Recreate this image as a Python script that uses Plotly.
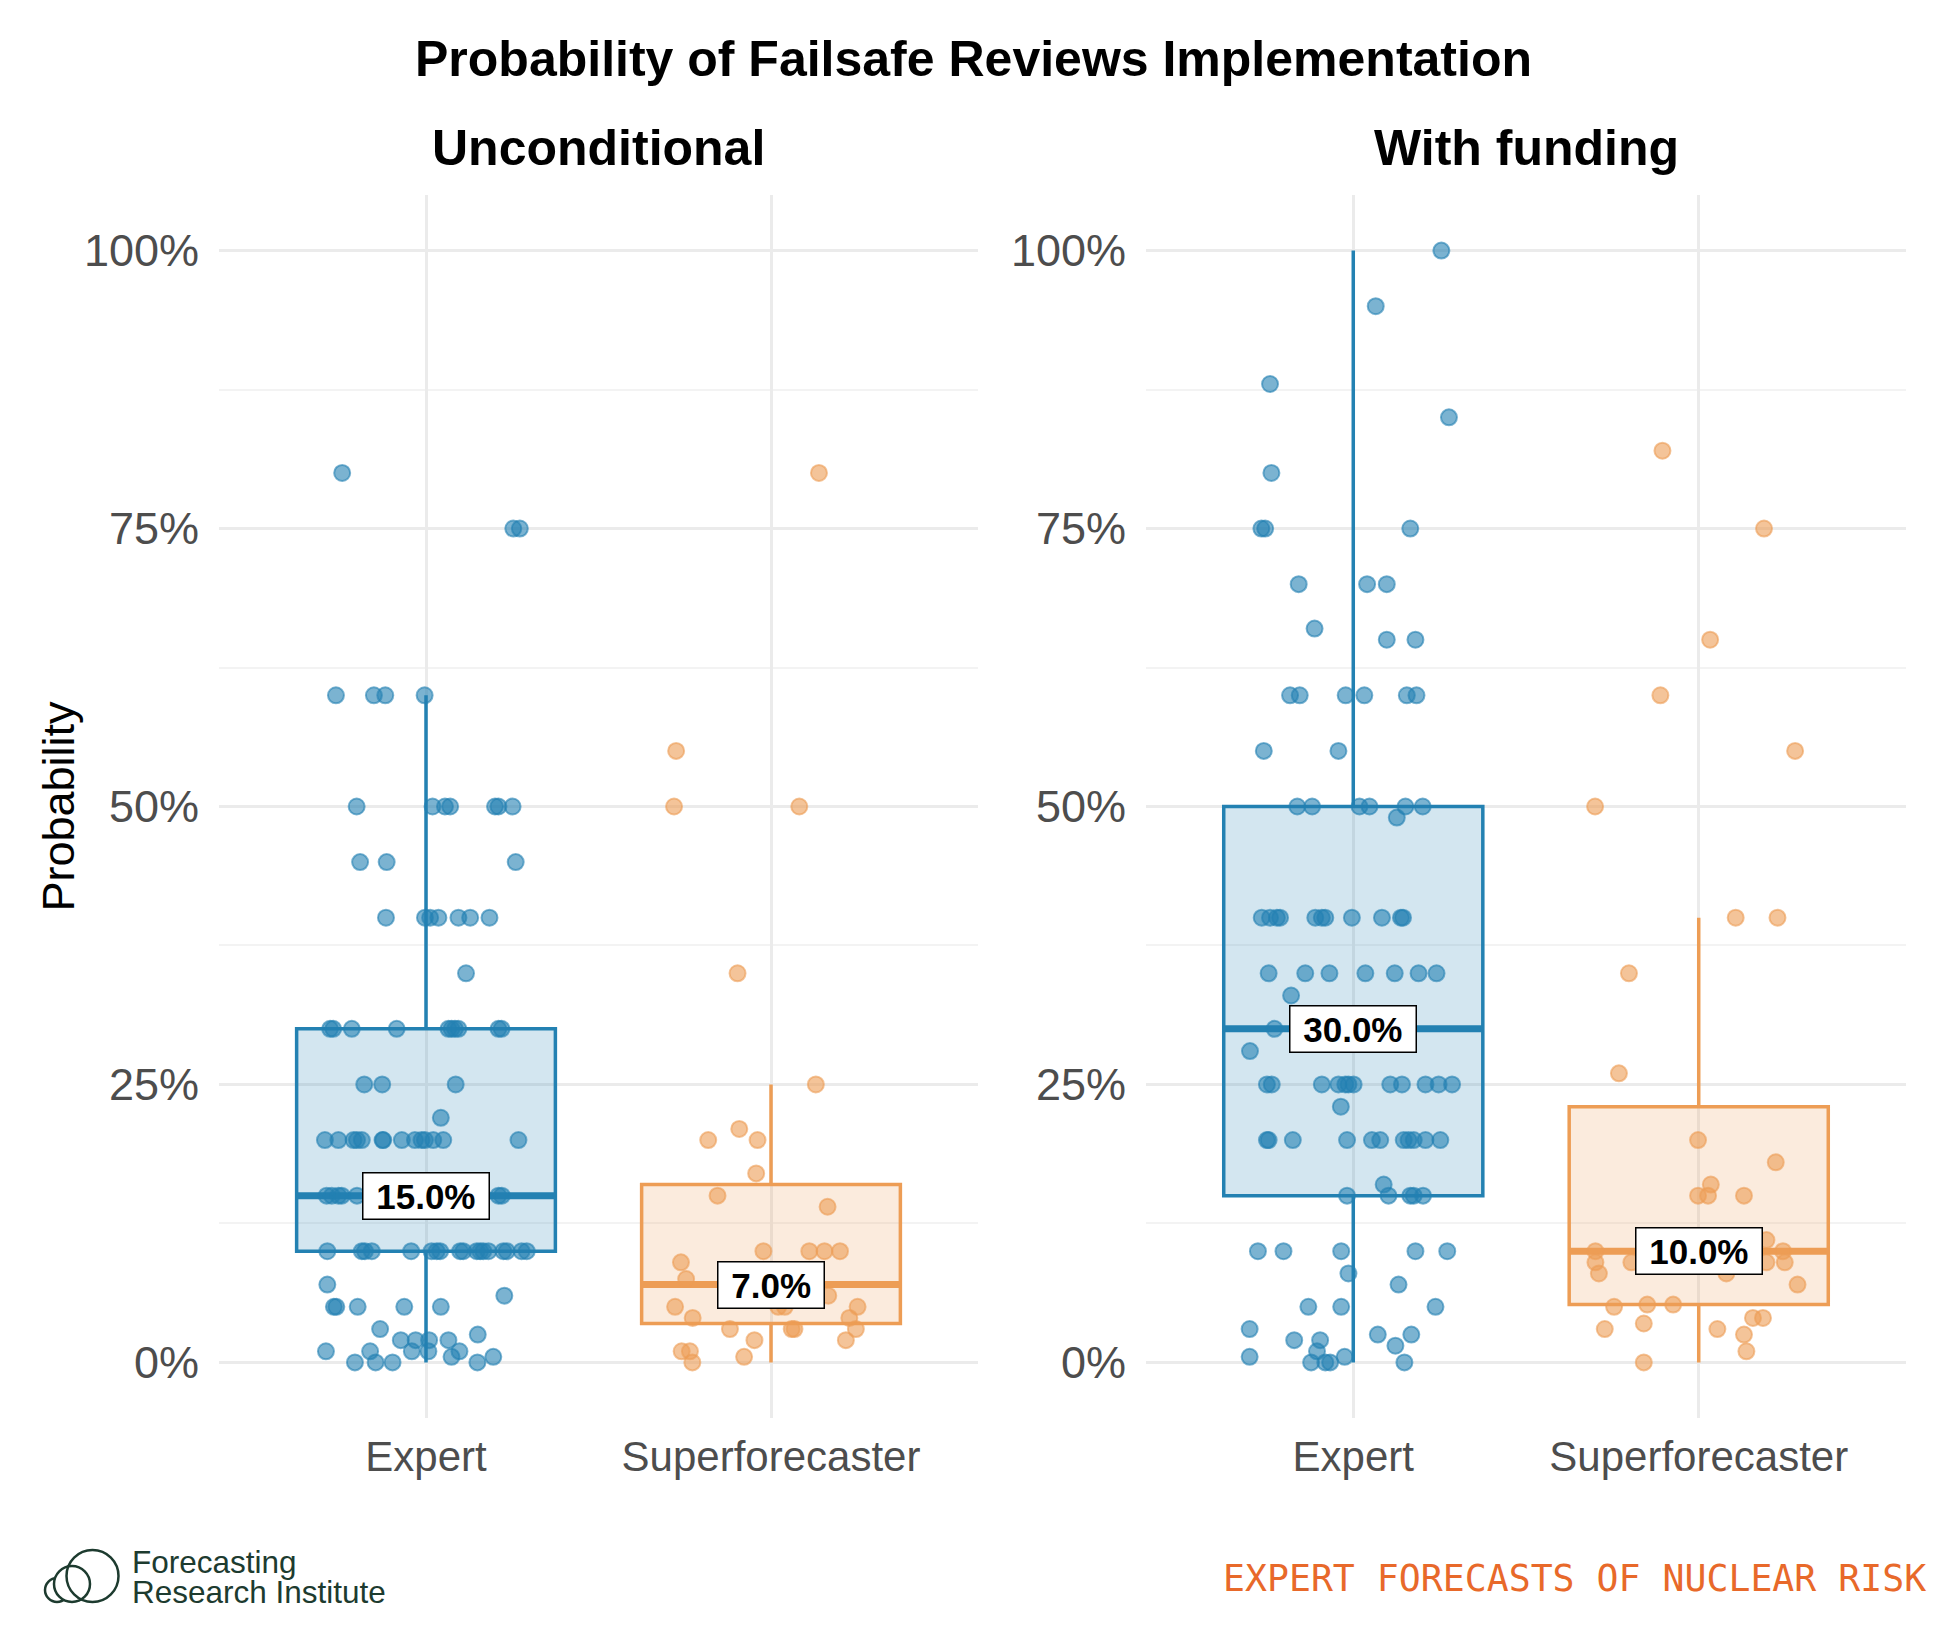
import numpy as np
import plotly.graph_objects as go

# ---------------- data (values in %, jitter offsets in category units) ----------------
categories = ["Expert", "Superforecaster"]
panel_titles = ["Unconditional", "With funding"]

unc_expert_vals = [
    80,
    75, 75,
    60, 60, 60, 60,
    50, 50, 50, 50, 50, 50, 50,
    45, 45, 45,
    40, 40, 40, 40, 40, 40, 40,
    35,
    30, 30, 30, 30, 30, 30, 30, 30, 30, 30,
    25, 25, 25,
    22,
    20, 20, 20, 20, 20, 20, 20, 20, 20, 20, 20, 20, 20, 20,
    15, 15, 15, 15, 15, 15, 15, 15, 15, 15, 15, 15, 15,
    10, 10, 10, 10, 10, 10, 10, 10, 10, 10, 10, 10, 10, 10, 10, 10, 10, 10,
    7, 6,
    5, 5, 5, 5, 5,
    3, 2.5,
    2, 2, 2, 2,
    1, 1, 1, 1, 1,
    0.5, 0.5,
    0, 0, 0, 0,
]
unc_expert_jit = [
    -0.243,
    0.253, 0.272,
    -0.261, -0.151, -0.118, -0.004,
    -0.201, 0.019, 0.055, 0.070, 0.200, 0.210, 0.251,
    -0.191, -0.114, 0.260,
    -0.116, -0.003, 0.012, 0.036, 0.094, 0.128, 0.184,
    0.116,
    -0.278, -0.269, -0.215, -0.085, 0.065, 0.074, 0.084, 0.094, 0.210, 0.219,
    -0.179, -0.127, 0.086,
    0.043,
    -0.293, -0.254, -0.210, -0.200, -0.186, -0.126, -0.124, -0.070, -0.032, -0.013, -0.003, 0.021, 0.050, 0.268,
    -0.288, -0.273, -0.254, -0.244, -0.200, -0.150, -0.100, -0.050, 0.000, 0.060, 0.120, 0.210, 0.220,
    -0.286, -0.186, -0.177, -0.157, -0.043, 0.016, 0.031, 0.041, 0.099, 0.108, 0.147, 0.157, 0.166, 0.181, 0.224, 0.234, 0.277, 0.292,
    -0.286, 0.227,
    -0.267, -0.260, -0.198, -0.063, 0.043,
    -0.133, 0.150,
    -0.073, -0.030, 0.009, 0.065,
    -0.290, -0.162, -0.041, 0.007, 0.097,
    0.195, 0.074,
    -0.206, -0.146, -0.097, 0.149,
]

unc_super_vals = [80, 55, 50, 50, 35, 25, 21, 20, 20, 17, 15, 14, 10, 10, 10, 10, 9, 7.5,
                  7, 7, 7, 7, 6, 5, 5, 5, 5, 4, 4, 3, 3, 3, 3, 2, 2, 1, 1, 0.5, 0]
unc_super_jit = [0.139, -0.275, -0.281, 0.082, -0.097, 0.130, -0.092, -0.182, -0.039, -0.043,
                 -0.155, 0.164, -0.022, 0.111, 0.155, 0.200, -0.261, -0.246, -0.120, -0.020,
                 0.060, 0.130, 0.166, -0.278, 0.021, 0.040, 0.251, -0.227, 0.227, 0.246,
                 -0.119, 0.060, 0.068, 0.217, -0.048, -0.259, -0.235, -0.078, -0.228]

fund_expert_vals = [
    100, 95, 88, 85, 80, 75, 75, 75, 70, 70, 70, 66, 65, 65,
    60, 60, 60, 60, 60, 60,
    55, 55,
    50, 50, 50, 50, 50, 50,
    49,
    40, 40, 40, 40, 40, 40, 40, 40, 40, 40, 40,
    35, 35, 35, 35, 35, 35, 35,
    33,
    30, 30, 30, 30, 30, 30, 30,
    28,
    25, 25, 25, 25, 25, 25, 25, 25, 25, 25, 25, 25,
    23,
    20, 20, 20, 20, 20, 20, 20, 20, 20, 20, 20,
    16,
    15, 15, 15, 15, 15,
    10, 10, 10, 10, 10,
    8, 7,
    5, 5, 5,
    3,
    2.5, 2.5,
    2, 2,
    1.5, 1,
    0.5, 0.5,
    0, 0, 0, 0,
]
fund_expert_jit = [
    0.255, 0.065, -0.241, 0.277, -0.237, -0.266, -0.255, 0.165, -0.158, 0.040, 0.097, -0.112, 0.097, 0.180,
    -0.183, -0.155, -0.022, 0.032, 0.155, 0.183,
    -0.259, -0.043,
    -0.162, -0.119, 0.018, 0.047, 0.151, 0.201,
    0.126,
    -0.265, -0.241, -0.221, -0.212, -0.110, -0.091, -0.081, -0.004, 0.083, 0.138, 0.144,
    -0.245, -0.139, -0.069, 0.035, 0.120, 0.189, 0.241,
    -0.180,
    -0.228, -0.150, -0.080, -0.020, 0.050, 0.100, 0.160,
    -0.299,
    -0.250, -0.236, -0.091, -0.043, -0.023, -0.014, 0.001, 0.107, 0.141, 0.209, 0.247, 0.286,
    -0.036,
    -0.250, -0.245, -0.175, -0.018, 0.054, 0.078, 0.146, 0.160, 0.175, 0.209, 0.252,
    0.088,
    -0.018, 0.102, 0.165, 0.175, 0.202,
    -0.276, -0.202, -0.035, 0.180, 0.272,
    -0.014, 0.131,
    -0.130, -0.035, 0.238,
    -0.300,
    0.071, 0.168,
    -0.171, -0.096,
    0.122, -0.105,
    -0.300, -0.025,
    -0.122, -0.081, -0.067, 0.148,
]

fund_super_vals = [82, 75, 65, 60, 55, 50, 40, 40, 35, 26, 20, 18, 16, 15, 15, 15, 11,
                   10, 10, 10, 10, 9, 9, 9, 9, 8, 8, 7, 5, 5.2, 5.2, 4, 4, 3.5, 3, 3, 2.5, 1, 0]
fund_super_jit = [-0.105, 0.189, 0.033, -0.111, 0.279, -0.300, 0.107, 0.228, -0.202, -0.231,
                  -0.002, 0.223, 0.035, -0.002, 0.027, 0.131, 0.196, -0.299, -0.050, 0.100,
                  0.244, -0.299, -0.195, 0.196, 0.249, -0.289, 0.080, 0.286, -0.245, -0.149,
                  -0.074, 0.157, 0.186, -0.159, -0.272, 0.054, 0.131, 0.138, -0.159]

y_tick_vals = [0, 25, 50, 75, 100]
y_tick_text = ["0%", "25%", "50%", "75%", "100%"]

# ---------------- styling ----------------
W, H = 1947, 1639
COLORS = {"Expert": (35, 129, 178), "Superforecaster": (237, 157, 85)}
FONT = "Liberation Sans, Arial, Helvetica, sans-serif"


def rgba(c, a):
    return f"rgba({c[0]},{c[1]},{c[2]},{a})"


def box_stats(v):
    a = np.sort(np.asarray(v, float))
    q1, med, q3 = np.percentile(a, [25, 50, 75])
    iqr = q3 - q1
    lo = a[a >= q1 - 1.5 * iqr].min()
    hi = a[a <= q3 + 1.5 * iqr].max()
    return q1, med, q3, lo, hi


panels = [
    ("x", "y", [(unc_expert_vals, unc_expert_jit), (unc_super_vals, unc_super_jit)]),
    ("x2", "y2", [(fund_expert_vals, fund_expert_jit), (fund_super_vals, fund_super_jit)]),
]

fig = go.Figure()
annotations = []

for xa, ya, groups in panels:
    stats = []
    for i, (vals, jit) in enumerate(groups):
        cat = categories[i]
        c = COLORS[cat]
        pos = i + 1
        q1, med, q3, lo, hi = box_stats(vals)
        stats.append((pos, med, c))
        fig.add_trace(go.Box(
            x=[pos], q1=[q1], median=[med], q3=[q3], lowerfence=[lo], upperfence=[hi],
            width=0.75, whiskerwidth=0, boxpoints=False,
            fillcolor=rgba(c, 0.2), line=dict(color=rgba(c, 1), width=3.5),
            xaxis=xa, yaxis=ya, showlegend=False, hoverinfo="skip",
        ))
    for pos, med, c in stats:
        fig.add_trace(go.Scatter(
            x=[pos - 0.375, pos + 0.375], y=[med, med], mode="lines",
            line=dict(color=rgba(c, 1), width=7), xaxis=xa, yaxis=ya,
            showlegend=False, hoverinfo="skip",
        ))
    for i, (vals, jit) in enumerate(groups):
        c = COLORS[categories[i]]
        pos = i + 1
        fig.add_trace(go.Scatter(
            x=[pos + j for j in jit], y=vals, mode="markers",
            marker=dict(size=16, color=rgba(c, 0.6), line=dict(color=rgba(c, 0.6), width=2)),
            xaxis=xa, yaxis=ya, showlegend=False, hoverinfo="skip",
        ))
    for pos, med, c in stats:
        annotations.append(dict(
            x=pos, y=med, xref=xa, yref=ya, text=f"\u00a0{med:.1f}%\u00a0",
            showarrow=False, xanchor="center", yanchor="middle",
            font=dict(family=FONT, size=35, color="black", weight="bold"),
            bgcolor="white", bordercolor="black", borderwidth=1.5, borderpad=3,
        ))

x_domains = [[219 / W, 978 / W], [1146 / W, 1906 / W]]
y_domain = [1 - 1418 / H, 1 - 195 / H]

axis_common_x = dict(
    range=[0.4, 2.6], tickmode="array", tickvals=[1, 2], ticktext=categories,
    showgrid=True, gridcolor="#ebebeb", gridwidth=2.5, zeroline=False, showline=False,
    ticks="", tickfont=dict(family=FONT, size=42, color="#4d4d4d"), ticklabelstandoff=10,
    fixedrange=True,
)
axis_common_y = dict(
    range=[-5, 105], tickmode="array", tickvals=y_tick_vals, ticktext=y_tick_text,
    showgrid=True, gridcolor="#ebebeb", gridwidth=2.5, zeroline=False, showline=False,
    ticks="", tickfont=dict(family=FONT, size=45, color="#4d4d4d"), ticklabelstandoff=19,
    minor=dict(tickvals=[12.5, 37.5, 62.5, 87.5], showgrid=True, gridcolor="#f3f3f3", gridwidth=1.5),
    domain=y_domain, fixedrange=True,
)

for k, t in enumerate(panel_titles):
    annotations.append(dict(
        x=sum(x_domains[k]) / 2, y=1 - 148 / H, xref="paper", yref="paper", text=t,
        showarrow=False, xanchor="center", yanchor="middle",
        font=dict(family=FONT, size=50, color="black", weight="bold"),
    ))

annotations.append(dict(
    x=58 / W, y=sum(y_domain) / 2, xref="paper", yref="paper", text="Probability",
    textangle=-90, showarrow=False, xanchor="center", yanchor="middle",
    font=dict(family=FONT, size=45, color="black"),
))

GREEN = "#1d3b2f"
annotations.append(dict(
    x=130 / W, y=1 - 1562 / H, xref="paper", yref="paper", text="Forecasting",
    showarrow=False, xanchor="left", yanchor="middle",
    font=dict(family=FONT, size=31.5, color=GREEN),
))
annotations.append(dict(
    x=130 / W, y=1 - 1592 / H, xref="paper", yref="paper", text="Research Institute",
    showarrow=False, xanchor="left", yanchor="middle",
    font=dict(family=FONT, size=31.5, color=GREEN),
))
annotations.append(dict(
    x=1928 / W, y=1 - 1578 / H, xref="paper", yref="paper", text="EXPERT FORECASTS OF NUCLEAR RISK",
    showarrow=False, xanchor="right", yanchor="middle",
    font=dict(family="DejaVu Sans Mono, monospace", size=36.5, color="#e8692a"),
))


def circ(cx, cy, r, fill="rgba(0,0,0,0)"):
    return dict(type="circle", xref="paper", yref="paper",
                x0=(cx - r) / W, x1=(cx + r) / W, y0=1 - (cy + r) / H, y1=1 - (cy - r) / H,
                line=dict(color=GREEN, width=2.5), fillcolor=fill, layer="above")


shapes = [
    circ(57, 1590, 12),
    circ(72, 1584, 18, fill="white"),
    circ(92.5, 1576, 26),
]

fig.update_layout(
    width=W, height=H, autosize=False,
    margin=dict(l=0, r=0, t=0, b=0, pad=0),
    paper_bgcolor="white", plot_bgcolor="white",
    title=dict(text="Probability of Failsafe Reviews Implementation", x=0.5, xanchor="center",
               y=1 - 58 / H, yanchor="middle",
               font=dict(family=FONT, size=50, color="black", weight="bold")),
    xaxis=dict(domain=x_domains[0], anchor="y", **axis_common_x),
    xaxis2=dict(domain=x_domains[1], anchor="y2", **axis_common_x),
    yaxis=dict(anchor="x", **axis_common_y),
    yaxis2=dict(anchor="x2", **axis_common_y),
    annotations=annotations,
    shapes=shapes,
    showlegend=False,
)

fig.write_html("out.html")
